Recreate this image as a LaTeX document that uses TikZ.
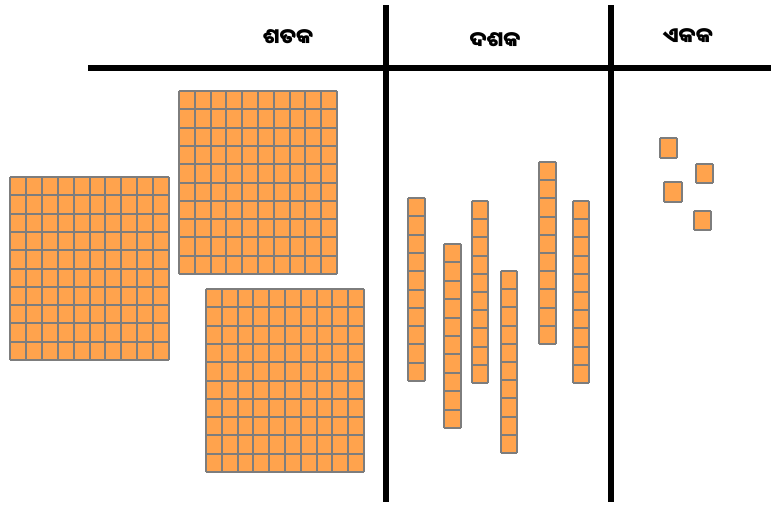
\documentclass[tikz,border=0pt]{standalone}
\usepackage{fontspec}
\newfontfamily\oriyafont[Script=Oriya]{Noto Sans Oriya UI}
\definecolor{cellorange}{RGB}{255,163,77}
\definecolor{cellgray}{RGB}{125,125,125}
\tikzset{
  cellline/.style={draw=cellgray, line width=2pt},
  bigrule/.style={draw=black, line width=5.5pt},
  heading/.style={font=\oriyafont\bfseries\fontsize{21}{25}\selectfont, inner sep=0pt, anchor=center}
}
\newcommand\myblock[6]{%
  \pgfmathsetmacro\mycw{(#3-#1)/#5}%
  \pgfmathsetmacro\mych{(#4-#2)/#6}%
  \begin{scope}[shift={(#1,#2)}, x=\mycw pt, y=-\mych pt]
    \fill[cellorange] (0,0) rectangle (#5,#6);
    \foreach \i in {0,...,#5} \draw[cellline] (\i,0) -- (\i,#6);
    \foreach \j in {0,...,#6} \draw[cellline] (0,\j) -- (#5,\j);
  \end{scope}}
\begin{document}
\begin{tikzpicture}[x=1pt, y=-1pt]
\useasboundingbox (0,0) rectangle (771,506);
% headings
\node[heading] (hund) at (288,38) {ଶତକ};
\node[heading] (tens) at (495,41) {ଦଶକ};
\node[heading] (ones) at (688,37) {ଏକକ};
% rules
\draw[bigrule] (88,68) -- (771,68);
\draw[bigrule] (386,5) -- (386,502);
\draw[bigrule] (611,5) -- (611,502);
% hundreds
\myblock{10}{177}{169}{360}{10}{10}
\myblock{179}{91}{337}{274}{10}{10}
\myblock{206}{289}{364}{472}{10}{10}
% tens
\myblock{408}{198}{425}{381}{1}{10}
\myblock{444}{244}{461}{428}{1}{10}
\myblock{472}{201}{488}{383}{1}{10}
\myblock{501}{271}{517}{453}{1}{10}
\myblock{539}{162}{556}{344}{1}{10}
\myblock{573}{201}{589}{383}{1}{10}
% ones
\myblock{660}{138}{677}{158}{1}{1}
\myblock{696}{164}{713}{183}{1}{1}
\myblock{664}{182}{682}{202}{1}{1}
\myblock{694}{211}{711}{230}{1}{1}
\end{tikzpicture}
\end{document}
